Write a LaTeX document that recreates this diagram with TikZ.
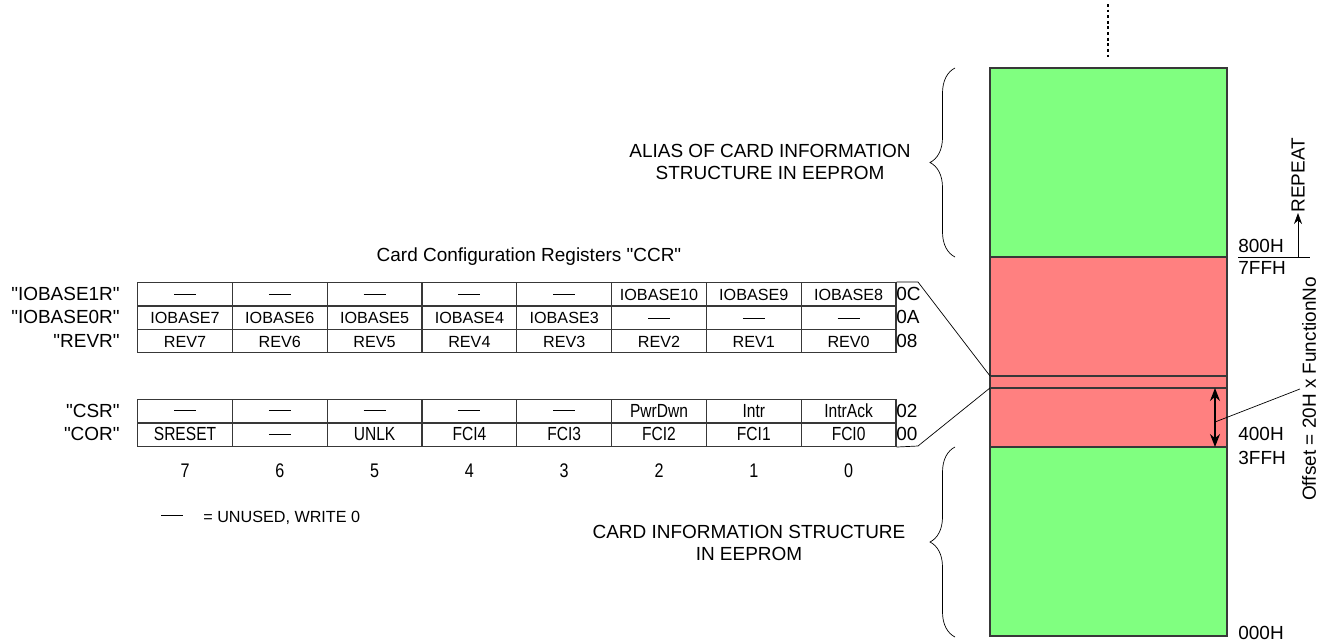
\documentclass[tikz,border=0pt]{standalone}
\usepackage{fontspec}
\setmainfont{Liberation Sans}
\newfontfamily\narrowfont[FakeStretch=0.82]{Liberation Sans}
\newfontfamily\quotefont{Liberation Sans}
\usetikzlibrary{arrows.meta,decorations.pathreplacing}

\definecolor{cisgreen}{HTML}{80FF80}
\definecolor{cfgred}{HTML}{FF8080}
\definecolor{edgegray}{HTML}{383838}
\newcommand{\unused}{\rule[0.6ex]{0.44cm}{0.5pt}}
\newcommand{\dq}{{\quotefont\symbol{34}}}

\begin{document}
\begin{tikzpicture}[x=0.02cm, y=-0.02cm,
    every node/.style={font=\fontsize{10.8}{13}\selectfont},
    cell/.style={draw=edgegray, line width=0.7pt, anchor=north west, inner sep=0pt,
      minimum width=1.896cm, minimum height=0.468cm, text height=1.6ex, text depth=0.3ex,
      font=\fontsize{9.2}{11}\selectfont},
    ncell/.style={cell, font=\narrowfont\fontsize{10.8}{13}\selectfont},
    memblk/.style={draw=edgegray, line width=0.7pt, anchor=north west, inner sep=0pt,
      outer sep=0pt, minimum width=4.74cm},
    addr/.style={anchor=west, inner sep=0pt},
    regname/.style={anchor=east, inner sep=0pt},
    bitno/.style={font=\narrowfont\fontsize{11.2}{13}\selectfont}]
  \useasboundingbox (0,0) rectangle (1329,643);

  % Memory map column.
  \node[memblk, fill=cisgreen, minimum height=3.78cm] (alias) at (990,68) {};
  \node[memblk, fill=cfgred, minimum height=2.38cm] (cfgtop) at (alias.south west) {};
  \node[memblk, fill=cfgred, minimum height=0.24cm] (cfgstrip) at (cfgtop.south west) {};
  \node[memblk, fill=cfgred, minimum height=1.18cm] (cfgbase) at (cfgstrip.south west) {};
  \node[memblk, fill=cisgreen, minimum height=3.78cm] (cis) at (cfgbase.south west) {};
  \draw[line width=1.3pt, dash pattern=on 1.6pt off 1.6pt] (1108,4) -- (1108,60);

  % Braces and their texts.
  \draw[decorate, decoration={brace, amplitude=0.5cm}] (955,257) -- (955,68);
  \draw[decorate, decoration={brace, amplitude=0.5cm}] (955,637) -- (955,447);
  \node[align=center] (aliastxt) at (770,162) {ALIAS OF CARD INFORMATION\\STRUCTURE IN EEPROM};
  \node[align=center] (cistxt) at (749,543) {CARD INFORMATION STRUCTURE\\IN EEPROM};

  % Addresses.
  \node[addr] (a800) at (1238,246) {800H};
  \node[addr] (a7ff) at (1238,268) {7FFH};
  \node[addr] (a400) at (1238,434) {400H};
  \node[addr] (a3ff) at (1238,458) {3FFH};
  \node[addr] (a000) at (1238,633) {000H};
  \draw (1238,257) -- (1310,257);
  \coordinate (rptfoot) at (1298,257);
  \node[rotate=90, anchor=west, inner sep=0pt] (repeat) at (1298,213) {REPEAT};
  \draw[-{Stealth[length=2.2mm,width=1.6mm]}] (rptfoot) -- (repeat.west);

  % Offset of the CCR block.
  \coordinate (offtop) at (1215,388);
  \coordinate (offbot) at (1215,447);
  \coordinate (offmid) at (1215,422);
  \draw[line width=0.8pt, {Stealth[length=2.6mm,width=2mm]}-{Stealth[length=2.6mm,width=2mm]}] (offtop) -- (offbot);
  \node[rotate=90, inner sep=1pt] (offset) at (1309,389) {Offset = 20H x FunctionNo};
  \draw (offmid) -- (offset.north);

  % Card configuration registers.
  \node (ccrtitle) at (529,257) {Card Configuration Registers \dq CCR\dq};
  \foreach \t [count=\i from 0] in {\unused,\unused,\unused,\unused,\unused,IOBASE10,IOBASE9,IOBASE8}
    \node[cell] (iohi-\i) at ({137+94.8*\i},282) {\t};
  \foreach \t [count=\i from 0] in {IOBASE7,IOBASE6,IOBASE5,IOBASE4,IOBASE3,\unused,\unused,\unused}
    \node[cell] (iolo-\i) at ({137+94.8*\i},305.4) {\t};
  \foreach \t [count=\i from 0] in {REV7,REV6,REV5,REV4,REV3,REV2,REV1,REV0}
    \node[cell] (rev-\i) at ({137+94.8*\i},328.8) {\t};
  \foreach \t [count=\i from 0] in {\unused,\unused,\unused,\unused,\unused,PwrDwn,Intr,IntrAck}
    \node[ncell] (csr-\i) at ({137+94.8*\i},399) {\t};
  \foreach \t [count=\i from 0] in {SRESET,\unused,UNLK,FCI4,FCI3,FCI2,FCI1,FCI0}
    \node[ncell] (cor-\i) at ({137+94.8*\i},422.4) {\t};
  \foreach \i [evaluate=\i as \b using int(7-\i)] in {0,...,7}
    \node[bitno] (bitn-\i) at ([yshift=-0.48cm]cor-\i.south) {\b};

  % Register names and offsets.
  \node[regname] (n-iohi) at (120,293.7) {\dq IOBASE1R\dq};
  \node[regname] (n-iolo) at (120,317.1) {\dq IOBASE0R\dq};
  \node[regname] (n-rev) at (120,340.5) {\dq REVR\dq};
  \node[regname] (n-csr) at (120,410.7) {\dq CSR\dq};
  \node[regname] (n-cor) at (120,434.1) {\dq COR\dq};
  \node[addr] (o-iohi) at (896,293.7) {0C};
  \node[addr] (o-iolo) at (896,317.1) {0A};
  \node[addr] (o-rev) at (896,340.5) {08};
  \node[addr] (o-csr) at (896,410.7) {02};
  \node[addr] (o-cor) at (896,434.1) {00};

  % Links to the memory map.
  \coordinate (ccrtop) at (918,282);
  \coordinate (ccrbot) at (918,446);
  \draw (iohi-7.north east) -- (ccrtop) -- (cfgstrip.north west);
  \draw (cor-7.south east) -- (ccrbot) -- (cfgstrip.south west);

  % Legend.
  \node[inner sep=0pt] (legdash) at (172,518) {\unused};
  \node[anchor=west, inner sep=0pt, font=\fontsize{9.2}{11}\selectfont] (legtxt) at (203,518) {= UNUSED, WRITE 0};
\end{tikzpicture}
\end{document}
